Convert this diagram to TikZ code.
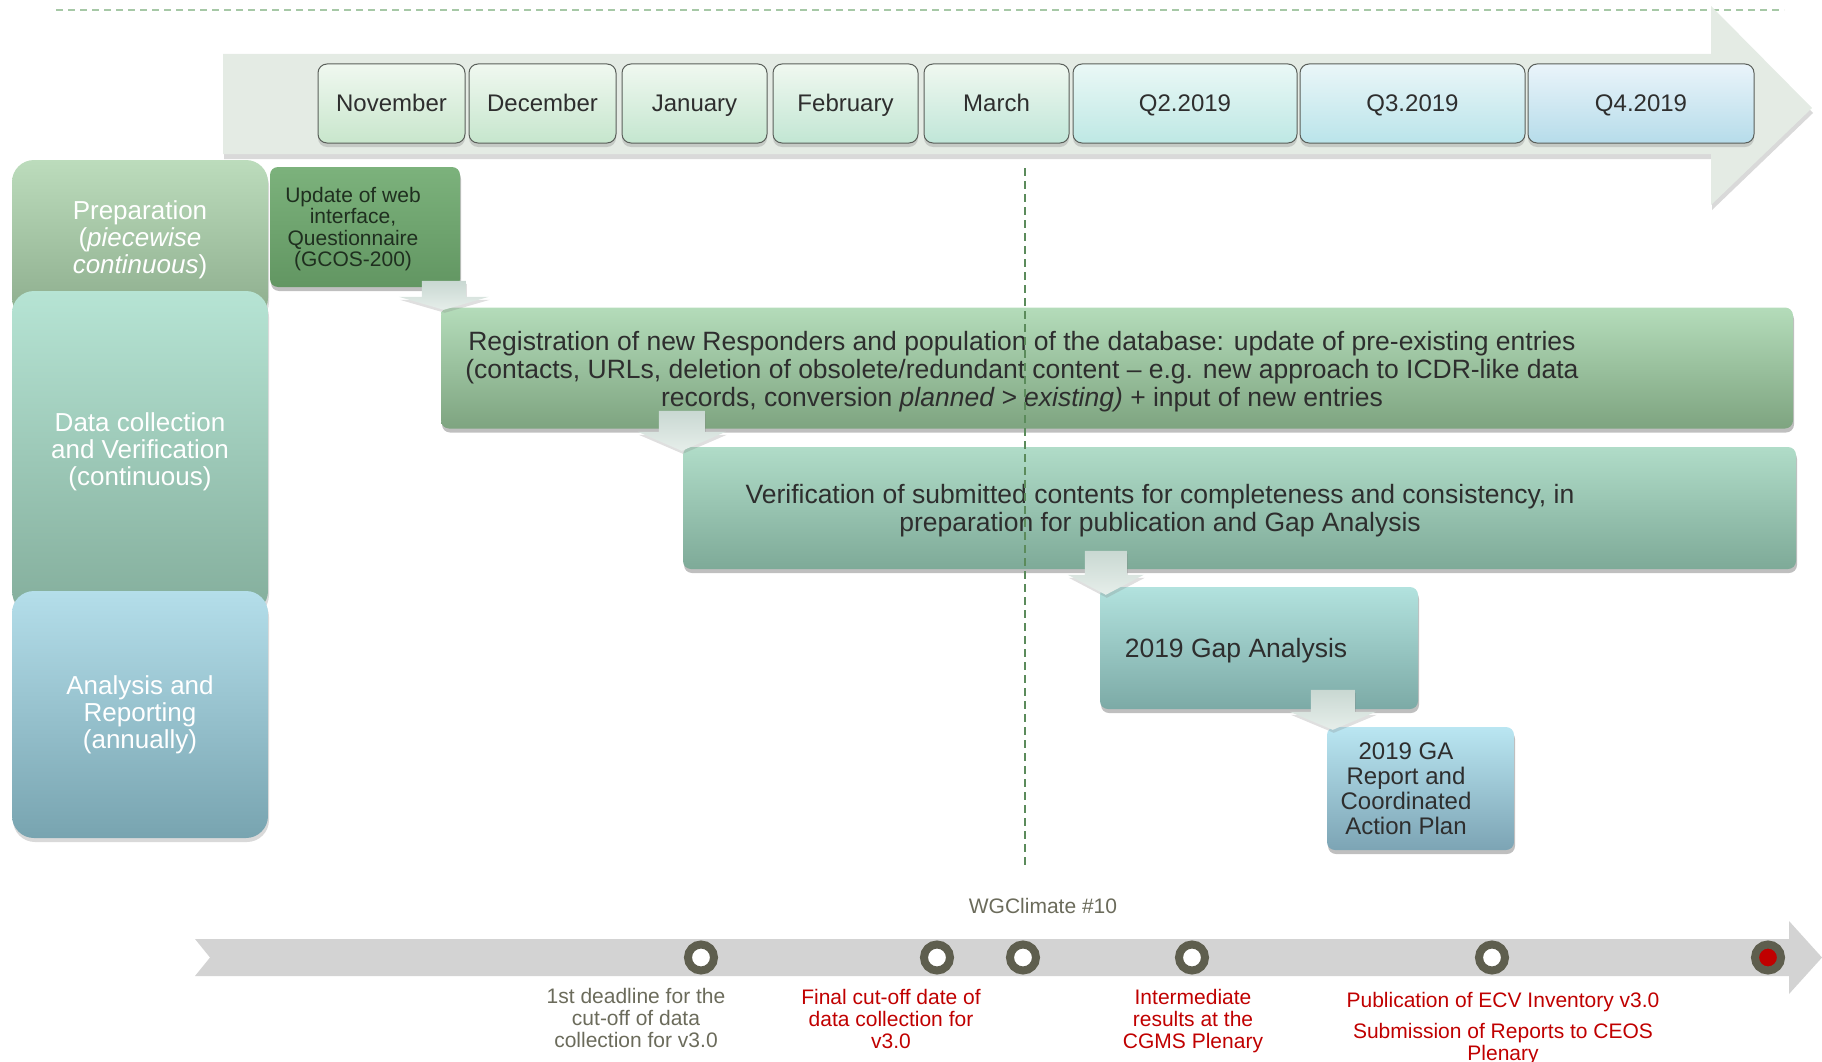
\documentclass[tikz,border=0pt]{standalone}
\usepackage{fontspec}
\setmainfont{Liberation Sans}
\usetikzlibrary{shadows,calc}
\definecolor{bandc}{HTML}{E4EBE4}
\definecolor{mbord}{HTML}{5A5F5A}
\definecolor{txt}{HTML}{2E2E2E}
\definecolor{updtxt}{HTML}{1F2F1F}
\definecolor{prepT}{HTML}{BCDCBC}
\definecolor{prepB}{HTML}{8CAC8C}
\definecolor{dataT}{HTML}{B6E4D4}
\definecolor{dataB}{HTML}{84AE9C}
\definecolor{anaT}{HTML}{B4DEEA}
\definecolor{anaB}{HTML}{78A4B0}
\definecolor{updT}{HTML}{7CB27C}
\definecolor{updB}{HTML}{629662}
\definecolor{regT}{HTML}{B4DCBA}
\definecolor{regB}{HTML}{7EA480}
\definecolor{verT}{HTML}{B0DCC8}
\definecolor{verB}{HTML}{7EAA98}
\definecolor{gapT}{HTML}{B2E2DE}
\definecolor{gapB}{HTML}{7CAAA6}
\definecolor{repT}{HTML}{BAE6F2}
\definecolor{repB}{HTML}{7CA4B4}
\definecolor{arrT}{HTML}{C9D8D2}
\definecolor{arrB}{HTML}{E6EEEA}
\definecolor{vdashc}{HTML}{5B8B5B}
\definecolor{tdashc}{HTML}{A6C8A6}
\definecolor{botc}{HTML}{D3D3D3}
\definecolor{ring}{HTML}{5E5E4E}
\definecolor{graytxt}{HTML}{6B6B5B}
\definecolor{redtxt}{HTML}{C00000}
\definecolor{mA}{HTML}{F0F8F0}
\definecolor{mAb}{HTML}{C8E6CC}
\definecolor{mBb}{HTML}{C6E6CD}
\definecolor{mCb}{HTML}{C4E6CF}
\definecolor{mDb}{HTML}{C2E6D3}
\definecolor{mEb}{HTML}{C0E6D8}
\definecolor{mF}{HTML}{EAF8F6}
\definecolor{mFb}{HTML}{BEE8E4}
\definecolor{mG}{HTML}{EAF6F8}
\definecolor{mGb}{HTML}{BAE4EA}
\definecolor{mH}{HTML}{EAF4FA}
\definecolor{mHb}{HTML}{B6DCEA}
\newcommand\BlockArr[5]{%
  \path[barrow] (#1) -- ++(-#4,-#2) -- ++(#4-#5,0) -- ++(0,-#3) -- ++(2*#5,0) -- ++(0,#3) -- ++(#4-#5,0) -- cycle;}
\begin{document}
\begin{tikzpicture}[x=1pt,y=-1pt,
  month/.style={draw=mbord, line width=1pt, rounded corners=9pt, minimum height=79pt, inner sep=0pt, text=txt,
    text height=20pt, text depth=4pt,
    font=\fontsize{24}{28}\selectfont, drop shadow={opacity=0.3, shadow xshift=0pt, shadow yshift=-4pt}},
  phase/.style={rounded corners=22pt, minimum width=256pt, inner sep=0pt, text=white, align=center,
    font=\fontsize{26}{27}\selectfont, drop shadow={opacity=0.3, shadow xshift=1pt, shadow yshift=-4pt}},
  task/.style={rounded corners=8pt, inner sep=0pt, drop shadow={opacity=0.5, shadow xshift=1pt, shadow yshift=-4pt}},
  tasktext/.style={align=center, text=txt, inner sep=0pt},
  barrow/.style={top color=arrT, bottom color=arrB, drop shadow={opacity=0.25, shadow xshift=1pt, shadow yshift=-3pt}},
  ms/.style={circle, draw=ring, line width=8pt, fill=white, minimum size=26pt, inner sep=0pt},
  mslabel/.style={align=center, inner sep=0pt, font=\fontsize{21}{22}\selectfont},
  vdash/.style={draw=vdashc, line width=1.3pt, dash pattern=on 8pt off 5pt},
  tdash/.style={draw=tdashc, line width=1.5pt, dash pattern=on 7pt off 5pt},
]
\useasboundingbox (0,0) rectangle (1822,1062);

% top dashed line
\coordinate (tl) at (56,10);
\coordinate (tr) at (1784,10);
\draw[tdash] (tl) -- (tr);

% top timeline arrow
\fill[bandc, drop shadow={opacity=0.3, shadow xshift=1pt, shadow yshift=-5pt}]
  (223,54) -- (1711,54) -- (1711,6) -- (1812,108) -- (1711,205) -- (1711,154) -- (223,154) -- cycle;

% months
\node[month, minimum width=147pt, top color=mA, bottom color=mAb] (nov) at (391.5,103.5) {November};
\node[month, minimum width=147pt, top color=mA, bottom color=mBb] (dec) at (542.5,103.5) {December};
\node[month, minimum width=145pt, top color=mA, bottom color=mCb] (jan) at (694.5,103.5) {January};
\node[month, minimum width=145pt, top color=mA, bottom color=mDb] (feb) at (845.5,103.5) {February};
\node[month, minimum width=145pt, top color=mA, bottom color=mEb] (mar) at (996.5,103.5) {March};
\node[month, minimum width=224pt, top color=mF, bottom color=mFb] (q2) at (1185,103.5) {Q2.2019};
\node[month, minimum width=225pt, top color=mG, bottom color=mGb] (q3) at (1412.5,103.5) {Q3.2019};
\node[month, minimum width=226pt, top color=mH, bottom color=mHb] (q4) at (1641,103.5) {Q4.2019};

% phases
\node[phase, minimum height=160pt, top color=prepT, bottom color=prepB] (prep) at (140,240)
  {Preparation\\(\textit{piecewise}\\\textit{continuous})};
\node[phase, minimum height=322pt, top color=dataT, bottom color=dataB] (data) at (140,452)
  {Data collection\\and Verification\\(continuous)};
\node[phase, minimum height=247pt, top color=anaT, bottom color=anaB] (ana) at (140,714.5)
  {Analysis and\\Reporting\\(annually)};

% tasks
\node[task, minimum width=190pt, minimum height=120pt, top color=updT, bottom color=updB] (upd) at (365,227) {};
\node[tasktext, text=updtxt, font=\fontsize{21}{21.5}\selectfont] (updt) at (353,229)
  {Update of web\\interface,\\Questionnaire\\(GCOS-200)};

\node[task, minimum width=1352pt, minimum height=121pt, top color=regT, bottom color=regB] (reg) at (1117,368) {};
\node[tasktext, font=\fontsize{26.5}{28}\selectfont] (regt) at (1022,371.5)
  {Registration of new Responders and population of the database: update of pre-existing entries\\
   (contacts, URLs, deletion of obsolete/redundant content – e.g. new approach to ICDR-like data\\
   records, conversion \textit{planned > existing)} + input of new entries};

\node[task, minimum width=1113pt, minimum height=122pt, top color=verT, bottom color=verB] (ver) at (1239.5,508) {};
\node[tasktext, font=\fontsize{26.5}{28}\selectfont] (vert) at (1160,510.5)
  {Verification of submitted contents for completeness and consistency, in\\
   preparation for publication and Gap Analysis};

\node[task, minimum width=318pt, minimum height=122pt, top color=gapT, bottom color=gapB] (gap) at (1259,648) {};
\node[tasktext, font=\fontsize{26.5}{28}\selectfont] (gapt) at (1236,650.5) {2019 Gap Analysis};

\node[task, minimum width=187pt, minimum height=123pt, top color=repT, bottom color=repB] (rep) at (1420.5,788.5) {};
\node[tasktext, font=\fontsize{24}{25}\selectfont] (rept) at (1406,789)
  {2019 GA\\Report and\\Coordinated\\Action Plan};

% block arrows (tip at target corner)
\BlockArr{$(reg.north west)+(3,2.5)$}{13}{16}{45}{22}
\BlockArr{$(ver.north west)+(-1,4)$}{19}{21}{44}{23}
\BlockArr{$(gap.north west)+(6,8)$}{20}{24}{38}{21}
\BlockArr{$(rep.north west)+(6,3)$}{18}{22}{43}{22}

% vertical dashed line
\coordinate (vt) at (1025,168);
\coordinate (vb) at (1025,868);
\draw[vdash] (vt) -- (vb);

% bottom milestone arrow
\fill[botc] (195,939) -- (1789,939) -- (1789,921) -- (1822,957.5) -- (1789,994) -- (1789,976) -- (195,976) -- (210,957.5) -- cycle;

\node[mslabel, text=graytxt] (wg) at (1043,906) {WGClimate \#10};

\node[ms] (m1) at (701,957.5) {};
\node[ms] (m2) at (937,957.5) {};
\node[ms] (m3) at (1023,957.5) {};
\node[ms] (m4) at (1192,957.5) {};
\node[ms] (m5) at (1492,957.5) {};
\node[ms, fill=redtxt] (m6) at (1768,957.5) {};

\node[mslabel, text=graytxt] (l1) at (636,1018) {1st deadline for the\\cut-off of data\\collection for v3.0};
\node[mslabel, text=redtxt] (l2) at (891,1019) {Final cut-off date of\\data collection for\\v3.0};
\node[mslabel, text=redtxt] (l3) at (1193,1021.5) {Intermediate\\results at the\\CGMS Plenary};
\node[mslabel, text=redtxt] (l4) at (1503,1002.5) {Publication of ECV Inventory v3.0};
\node[mslabel, text=redtxt] (l5) at (1503,1044.5) {Submission of Reports to CEOS\\Plenary};
\end{tikzpicture}
\end{document}
